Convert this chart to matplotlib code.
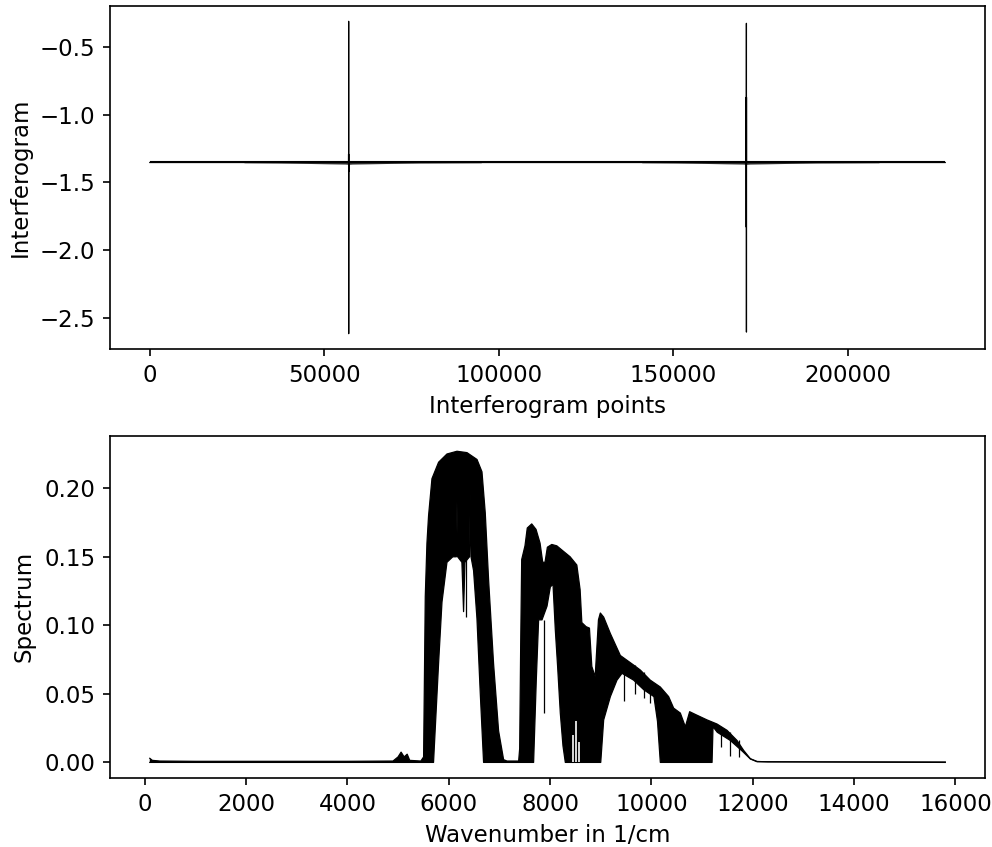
import numpy as np
import matplotlib
matplotlib.use("Agg")
import matplotlib.pyplot as plt

plt.rcParams["font.size"] = 11

# interferogram: flat baseline with two centre bursts (turning points)
interf_x = [0, 56960, 56975, 56990, 57000, 57010, 57025, 57040,
            170960, 170970, 170980, 171000, 171010, 171020, 171030,
            228000]
interf_y = [-1.352, -1.352, -1.29, -1.42, -0.308, -2.618, -1.83, -1.352,
            -1.352, -0.87, -1.83, -0.323, -2.606, -0.87, -1.352,
            -1.352]
baseline = -1.352

# small ripple around each burst (offset from centre, half height)
burst_centres = [57000, 171000]
burst_offset = [-30000, -20000, -12000, -6000, -1000, 0, 1000, 6000, 12000, 20000, 38000]
burst_amp = [0.002, 0.004, 0.007, 0.010, 0.012, 0.014, 0.012, 0.010, 0.007, 0.004, 0.002]

# spectrum: upper envelope
spec_x = [100, 150, 300, 1000, 4000, 4900, 5000, 5060, 5120, 5180, 5230, 5450,
          5504, 5537, 5570, 5602, 5669, 5800, 5965, 6163, 6360, 6558, 6656, 6721,
          6787, 6885, 6984, 7083, 7150, 7380, 7400, 7420, 7440, 7505, 7550, 7638,
          7723, 7802, 7855, 7900, 7947, 8034, 8133, 8264, 8396, 8528, 8593, 8627,
          8712, 8777, 8824, 8890, 8955, 8992, 9058, 9190, 9387, 9650, 9781, 9978,
          10176, 10340, 10439, 10571, 10670, 10755, 10867, 11098, 11295, 11493,
          11690, 11820, 11953, 12085, 12300, 15800]
spec_upper = [0.003, 0.0015, 0.001, 0.0008, 0.0008, 0.001, 0.004, 0.0075, 0.004, 0.006, 0.0015, 0.001,
              0.004, 0.121, 0.16, 0.18, 0.207, 0.219, 0.225, 0.227, 0.226, 0.221, 0.212, 0.182,
              0.133, 0.072, 0.023, 0.002, 0.001, 0.001, 0.01, 0.085, 0.148, 0.158, 0.171, 0.174,
              0.170, 0.160, 0.146, 0.146, 0.157, 0.159, 0.158, 0.154, 0.150, 0.144, 0.126, 0.102,
              0.099, 0.098, 0.070, 0.0625, 0.104, 0.109, 0.106, 0.094, 0.078, 0.071, 0.0674, 0.060,
              0.055, 0.048, 0.0396, 0.036, 0.026, 0.037, 0.035, 0.031, 0.028, 0.0234,
              0.016, 0.0088, 0.0027, 0.0007, 0.0004, 0.0003]

# spectrum: lower edge of the dense black band (white below it)
low_x = [100, 5700, 5800, 5867, 5965, 6080, 6150, 6163, 6176, 6260, 6293, 6320,
         6410, 6425, 6440, 6490, 6557, 6623, 6688, 7675, 7728, 7774, 7841, 7940,
         8005, 8058, 8103, 8149, 8202, 8255, 8301, 9000, 9058, 9190, 9320, 9420,
         9650, 9850, 10050, 10120, 10176, 11197, 11216, 11300, 11558, 11800, 11953,
         12085, 15800]
low_y = [0, 0, 0.0725, 0.117, 0.146, 0.15, 0.15, 0.19, 0.15, 0.146, 0.11, 0.146,
         0.15, 0.197, 0.15, 0.14, 0.105, 0.05, 0, 0, 0.060, 0.104, 0.104, 0.114,
         0.128, 0.13, 0.097, 0.070, 0.036, 0.012, 0, 0, 0.031, 0.048, 0.060, 0.065,
         0.060, 0.053, 0.048, 0.030, 0, 0, 0.026, 0.022, 0.016, 0.008, 0.0025,
         0.0005, 0]

# single absorption lines reaching below the band, and white gaps at the bottom
line_x = [6333, 7872, 9452, 9683, 9850, 9979, 11370, 11544, 11722]
line_lo = [0.106, 0.036, 0.045, 0.050, 0.047, 0.043, 0.011, 0.005, 0.004]
line_hi = [0.15, 0.104, 0.070, 0.071, 0.066, 0.060, 0.026, 0.022, 0.016]
gap_x = [8450, 8520, 8580]
gap_hi = [0.02, 0.03, 0.015]

fig = plt.figure(figsize=(992 / 150, 847 / 150), dpi=150)
ax1 = fig.add_axes([0.1109, 0.5876, 0.8821, 0.4057])
ax2 = fig.add_axes([0.1109, 0.0815, 0.8821, 0.4041])

ax1.plot(interf_x, interf_y, color="black", lw=0.6)
ax1.hlines(baseline, interf_x[0], interf_x[-1], color="black", lw=1.0)
for c in burst_centres:
    bx = np.array(burst_offset) + c
    amp = np.array(burst_amp)
    ax1.fill_between(bx, baseline - amp, baseline + amp, color="0.2", lw=0)
ax1.set_xlabel("Interferogram points")
ax1.set_ylabel("Interferogram")

poly_x = np.r_[spec_x, low_x[::-1]]
poly_y = np.r_[spec_upper, low_y[::-1]]
ax2.fill(poly_x, poly_y, color="black", lw=0)
ax2.plot(spec_x, spec_upper, color="black", lw=0.6)
ax2.plot(low_x, low_y, color="black", lw=0.6)
ax2.vlines(line_x, line_lo, line_hi, color="black", lw=0.6)
ax2.vlines(gap_x, 0, gap_hi, color="white", lw=0.8)
ax2.set_xlabel("Wavenumber in 1/cm")
ax2.set_ylabel("Spectrum")

fig.savefig("out.png", dpi=150)
